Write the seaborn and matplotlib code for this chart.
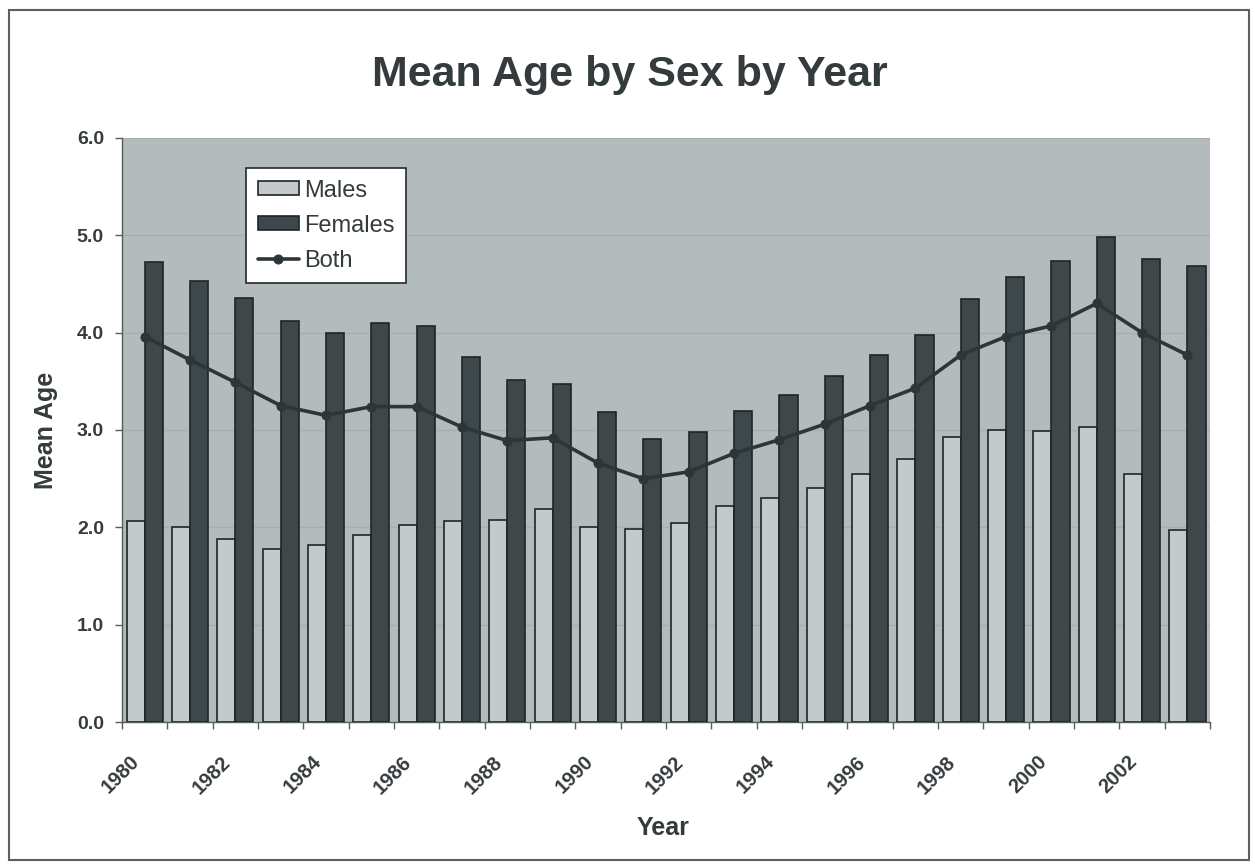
import numpy as np
import pandas as pd
import matplotlib
matplotlib.use("Agg")
import matplotlib.pyplot as plt
from matplotlib.patches import Rectangle
from matplotlib.ticker import FixedLocator, MultipleLocator, FormatStrFormatter
from matplotlib.transforms import ScaledTranslation
import seaborn as sns

# Mean age by sex, 1980-2003
years = list(range(1980, 2004))
males = [2.06, 2.00, 1.88, 1.78, 1.82, 1.92, 2.02, 2.06, 2.08, 2.19,
         2.00, 1.98, 2.04, 2.22, 2.30, 2.40, 2.55, 2.70, 2.93, 3.00,
         2.99, 3.03, 2.55, 1.97]
females = [4.73, 4.53, 4.36, 4.12, 4.00, 4.10, 4.07, 3.75, 3.51, 3.47,
           3.18, 2.91, 2.98, 3.20, 3.36, 3.55, 3.77, 3.98, 4.35, 4.57,
           4.74, 4.98, 4.76, 4.68]
both = [3.96, 3.72, 3.49, 3.25, 3.15, 3.24, 3.24, 3.03, 2.89, 2.92,
        2.66, 2.50, 2.57, 2.76, 2.90, 3.06, 3.25, 3.43, 3.77, 3.96,
        4.07, 4.30, 4.00, 3.77]
label_years = years[::2]

sns.set_theme(style="white")
plt.rcParams["font.family"] = ["Liberation Sans", "DejaVu Sans"]

text_col = "#333b3d"
bg_col = "#b3bbbd"
male_col = "#c4cacb"
female_col = "#3e484b"
line_col = "#2c3537"
axis_col = "#555d5f"

df = pd.DataFrame({
    "Year": years * 2,
    "Mean Age": males + females,
    "Sex": ["Males"] * len(years) + ["Females"] * len(years),
})

fig = plt.figure(figsize=(12.55, 8.65), dpi=100)
fig.patch.set_facecolor("white")
ax = fig.add_axes([0.0972, 0.1653, 0.8670, 0.6752])
ax.set_facecolor(bg_col)

sns.barplot(data=df, x="Year", y="Mean Age", hue="Sex",
            hue_order=["Males", "Females"],
            palette={"Males": male_col, "Females": female_col},
            width=0.8, edgecolor="#1e2527", linewidth=1.2,
            saturation=1, ax=ax, zorder=3)

sns.lineplot(x=np.arange(len(years)), y=both, color=line_col,
             linewidth=2.6, marker="o", markersize=6.5,
             markeredgecolor=line_col, label="Both", ax=ax, zorder=4)

# axis limits and ticks
ax.set_xlim(-0.5, len(years) - 0.5)
ax.set_ylim(0, 6)
ax.yaxis.set_major_locator(MultipleLocator(1.0))
ax.yaxis.set_major_formatter(FormatStrFormatter("%.1f"))
ax.grid(axis="y", color="#a7afb1", linewidth=1.0, zorder=0)
ax.set_axisbelow(True)

major_pos = [years.index(y) - 0.5 for y in label_years]
ax.xaxis.set_major_locator(FixedLocator(major_pos))
ax.set_xticklabels([str(y) for y in label_years])
ax.xaxis.set_minor_locator(FixedLocator(np.arange(-0.5, len(years), 1.0)))
ax.tick_params(axis="x", which="both", direction="out", length=5,
               width=1, color=axis_col, bottom=True, pad=0)
ax.tick_params(axis="y", direction="out", length=5, width=1,
               color=axis_col, left=True, pad=8)
shift = ScaledTranslation(0.15, -0.30, fig.dpi_scale_trans)
for lab in ax.get_xticklabels():
    lab.set_rotation(45)
    lab.set_ha("right")
    lab.set_va("center")
    lab.set_rotation_mode("anchor")
    lab.set_fontsize(14.5)
    lab.set_fontweight("bold")
    lab.set_color(text_col)
    lab.set_transform(lab.get_transform() + shift)
for lab in ax.get_yticklabels():
    lab.set_fontsize(14)
    lab.set_fontweight("bold")
    lab.set_color(text_col)

for side in ["top", "right"]:
    ax.spines[side].set_visible(False)
for side in ["left", "bottom"]:
    ax.spines[side].set_color(axis_col)
    ax.spines[side].set_linewidth(1)

ax.set_xlabel("Year", fontsize=18, fontweight="bold", color=text_col)
ax.xaxis.set_label_coords(0.497, -0.161)
ax.set_ylabel("Mean Age", fontsize=18, fontweight="bold", color=text_col)
ax.yaxis.set_label_coords(-0.059, 0.5)

fig.suptitle("Mean Age by Sex by Year", x=0.502, y=0.936,
             fontsize=31, fontweight="bold", color=text_col)

# legend: Males, Females, Both
handles, labels = ax.get_legend_handles_labels()
order = [labels.index(n) for n in ["Males", "Females", "Both"]]
leg = ax.legend([handles[i] for i in order], [labels[i] for i in order],
                loc="upper left", bbox_to_anchor=(0.114, 0.949),
                borderaxespad=0, frameon=True, fancybox=False,
                fontsize=17, handlelength=1.75, handleheight=0.55,
                handletextpad=0.2, labelspacing=0.55, borderpad=0.5)
leg.get_frame().set_edgecolor("#222a2c")
leg.get_frame().set_linewidth(1.2)
leg.get_frame().set_facecolor("white")
leg.get_frame().set_alpha(1)
for t in leg.get_texts():
    t.set_color(text_col)

# frame around the whole chart
fig.patches.append(Rectangle((0.007, 0.006), 0.988, 0.982,
                             transform=fig.transFigure, fill=False,
                             edgecolor="#5a6163", linewidth=1.5))

fig.savefig("out.png", dpi=100)
